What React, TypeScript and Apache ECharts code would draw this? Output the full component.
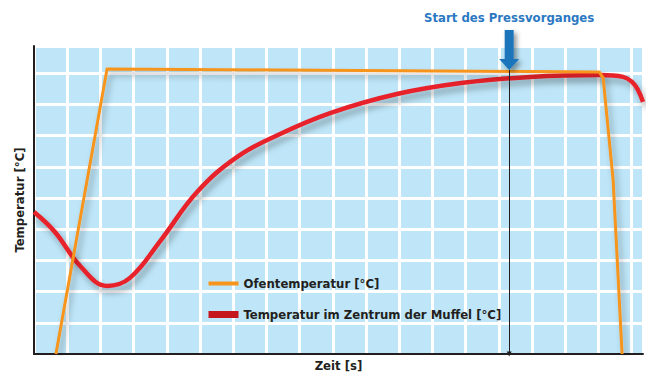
import React, { useEffect, useRef } from "react";
import * as echarts from "echarts";

// Time axis in arbitrary units (grid cell = 10), temperature in arbitrary units (grid cell = 100)
const ofenX = [6.6, 22.0, 170.2, 171.4, 174.4, 177.1];
const ofenY = [0, 913, 904, 885, 558, 0];

const muffelX = [0, 6.3, 13.9, 22.0, 28.9, 38.0, 49.1, 61.1, 74.1, 89.2, 109.3, 129.2, 149.4, 170.5, 177.4, 180.1, 181.9, 183.4];
const muffelY = [455, 391, 282, 218, 244, 362, 519, 631, 705, 772, 833, 869, 888, 894, 888, 872, 846, 808];

const markerX = 143.1;
const markerTop = 910;

const legendNames = ["Ofentemperatur [°C]", "Temperatur im Zentrum der Muffel [°C]"];
const annotation = "Start des Pressvorganges";
const xName = "Zeit [s]";
const yName = "Temperatur [°C]";

const FONT = "'DejaVu Sans Condensed', 'Liberation Sans Narrow', sans-serif";

export default function App() {
  const ref = useRef<HTMLDivElement>(null);
  useEffect(() => {
    if (!ref.current) return;
    const chart = echarts.init(ref.current, undefined, { renderer: "svg" });
    const shadow = {
      shadowBlur: 6,
      shadowColor: "rgba(0,0,0,0.33)",
      shadowOffsetX: 3,
      shadowOffsetY: 5,
    };
    chart.setOption({
      animation: false,
      grid: {
        left: 34,
        right: 9,
        top: 46,
        bottom: 23,
        show: true,
        backgroundColor: "#bee6f8",
        borderWidth: 0,
      },
      xAxis: {
        type: "value",
        min: 0,
        max: 183.4,
        interval: 10,
        name: xName,
        nameLocation: "middle",
        nameGap: 5,
        nameTextStyle: { fontFamily: FONT, fontWeight: "bold", fontSize: 13, color: "#231f20", verticalAlign: "top" },
        axisLine: { show: true, onZero: false, lineStyle: { color: "#231f20", width: 2 } },
        axisTick: { show: false },
        axisLabel: { show: false },
        splitLine: { show: true, lineStyle: { color: "#ffffff", width: 3 } },
      },
      yAxis: {
        type: "value",
        min: 0,
        max: 987,
        interval: 100,
        name: yName,
        nameLocation: "middle",
        nameGap: 8,
        nameTextStyle: { fontFamily: FONT, fontWeight: "bold", fontSize: 13, color: "#231f20" },
        axisLine: { show: true, onZero: false, lineStyle: { color: "#231f20", width: 2 } },
        axisTick: { show: false },
        axisLabel: { show: false },
        splitLine: { show: true, lineStyle: { color: "#ffffff", width: 3 } },
      },
      legend: {
        orient: "vertical",
        left: 200,
        top: 272,
        itemWidth: 30,
        itemHeight: 14,
        itemGap: 18,
        textStyle: { fontFamily: FONT, fontWeight: "bold", fontSize: 13, color: "#231f20" },
        data: [
          { name: legendNames[0], lineStyle: { color: "#f7941e", width: 4 }, itemStyle: { opacity: 0 } },
          { name: legendNames[1], lineStyle: { color: "#c4161c", width: 7 }, itemStyle: { opacity: 0 } },
        ],
      },
      series: [
        {
          name: legendNames[1],
          type: "line",
          symbol: "none",
          smooth: 0.4,
          clip: true,
          data: muffelX.map((x, i) => [x, muffelY[i]]),
          lineStyle: { color: "#e8202a", width: 4.5, ...shadow },
          itemStyle: { color: "#e8202a" },
          z: 3,
        },
        {
          name: legendNames[0],
          type: "line",
          symbol: "none",
          smooth: false,
          clip: true,
          data: ofenX.map((x, i) => [x, ofenY[i]]),
          lineStyle: { color: "#f7941e", width: 3, join: "round", ...shadow },
          itemStyle: { color: "#f7941e" },
          z: 4,
        },
        {
          name: "marker",
          type: "line",
          data: [],
          symbol: "none",
          z: 5,
          markLine: {
            silent: true,
            symbol: ["none", "triangle"],
            symbolSize: [5, 5],
            label: { show: false },
            lineStyle: { color: "#231f20", width: 1, type: "solid" },
            data: [[{ coord: [markerX, markerTop] }, { coord: [markerX, 0] }]],
          },
          markPoint: {
            silent: true,
            symbol: "path://M5.5,0 L14.5,0 L14.5,29 L20,29 L10,40 L0,29 L5.5,29 Z",
            symbolSize: [20, 40],
            symbolOffset: [0, "-50%"],
            itemStyle: {
              color: "#1b75bb",
              shadowBlur: 5,
              shadowColor: "rgba(0,0,0,0.4)",
              shadowOffsetX: 3,
              shadowOffsetY: 3,
            },
            label: {
              show: true,
              position: "top",
              distance: 6,
              formatter: annotation,
              fontFamily: FONT,
              fontWeight: "bold",
              fontSize: 13,
              color: "#2b78c2",
            },
            data: [{ coord: [markerX, markerTop] }],
          },
        },
      ],
    });
    return () => chart.dispose();
  }, []);
  return <div ref={ref} style={{ width: 652, height: 377, position: "absolute", left: 0, top: 0 }} />;
}
